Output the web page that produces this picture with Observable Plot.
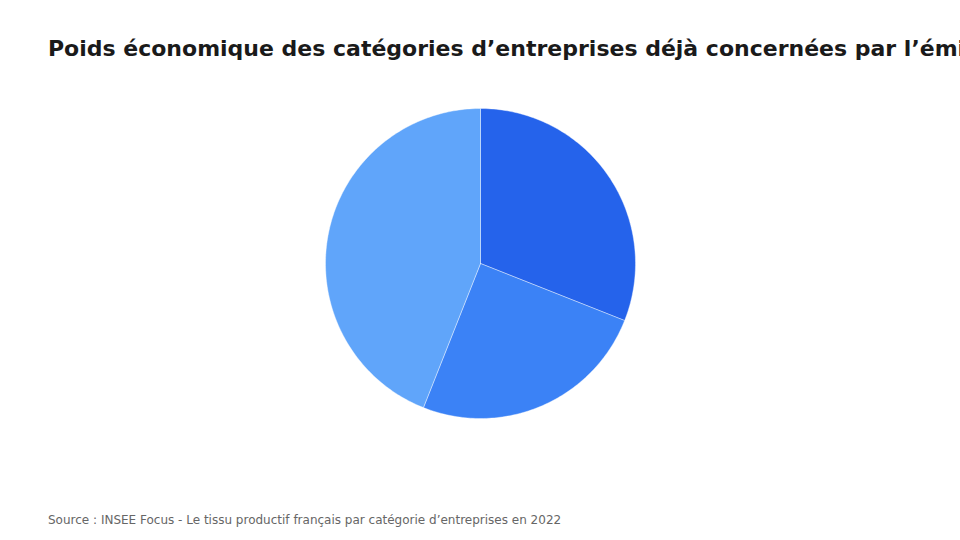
<!DOCTYPE html>
<html lang="fr">
<head>
<meta charset="utf-8">
<script src="https://cdn.jsdelivr.net/npm/d3@7"></script>
<script src="https://cdn.jsdelivr.net/npm/@observablehq/plot@0.6"></script>
<style>
  html, body { margin: 0; padding: 0; background: #fff; width: 960px; height: 540px; overflow: hidden; }
  #title { position: absolute; left: 48px; top: 35px; font: bold 22px "DejaVu Sans", sans-serif; color: #1a1a1a; white-space: nowrap; line-height: 28px; margin: 0; }
  #chart { position: absolute; left: 0; top: 78px; }
  #source { position: absolute; left: 48px; top: 512px; font: 12px "DejaVu Sans", sans-serif; color: #666; white-space: nowrap; line-height: 16px; }
</style>
</head>
<body>
<div id="title">Poids économique des catégories d’entreprises déjà concernées par l’émission de factures électroniques</div>
<div id="chart"></div>
<div id="source">Source : INSEE Focus - Le tissu productif français par catégorie d’entreprises en 2022</div>
<script>
const categories = ["Grandes entreprises", "ETI", "PME et microentreprises"];
const values = [31, 25, 44];
const colors = ["#2563eb", "#3b82f6", "#60a5fa"];

// Build slice outlines from the values (angles measured clockwise from the top)
const total = d3.sum(values);
const points = [];
let acc = 0;
categories.forEach((cat, i) => {
  const a0 = (acc / total) * 2 * Math.PI;
  acc += values[i];
  const a1 = (acc / total) * 2 * Math.PI;
  const n = Math.max(2, Math.ceil((a1 - a0) / (Math.PI / 180)));
  points.push({category: cat, x: 0, y: 0});
  for (let k = 0; k <= n; k++) {
    const a = a0 + (a1 - a0) * k / n;
    points.push({category: cat, x: Math.sin(a), y: Math.cos(a)});
  }
  points.push({category: cat, x: 0, y: 0});
});

const chart = Plot.plot({
  width: 960,
  height: 370,
  marginLeft: 325,
  marginRight: 325,
  marginTop: 30,
  marginBottom: 30,
  x: {domain: [-1, 1], axis: null},
  y: {domain: [-1, 1], axis: null},
  color: {domain: categories, range: colors},
  marks: [
    Plot.line(points, {x: "x", y: "y", z: "category", fill: "category", stroke: "white", strokeWidth: 0.4})
  ]
});
document.getElementById("chart").appendChild(chart);
</script>
</body>
</html>
